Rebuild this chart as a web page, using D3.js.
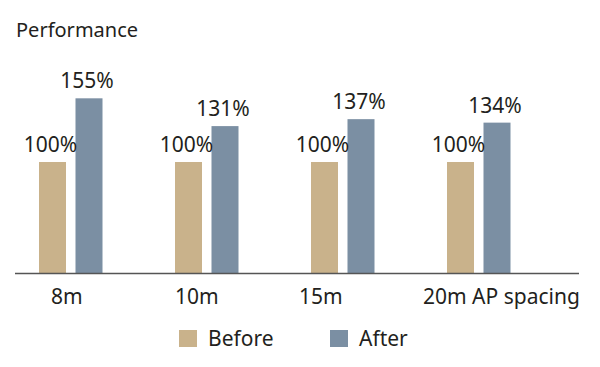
<!DOCTYPE html>
<html>
<head>
<meta charset="utf-8">
<script src="https://cdn.jsdelivr.net/npm/d3@7"></script>
<style>
  html, body { margin: 0; padding: 0; background: #fff; }
  text { font-family: "Noto Sans", "Open Sans", sans-serif; fill: #231f20; }
</style>
</head>
<body>
<svg id="chart" width="600" height="367"></svg>
<script>
const categories = ["8m", "10m", "15m", "20m AP spacing"];
const seriesNames = ["Before", "After"];
const beforeValues = [100, 100, 100, 100];
const afterValues = [155, 131, 137, 134];
const valueLabels = [["100%", "155%"], ["100%", "131%"], ["100%", "137%"], ["100%", "134%"]];
const colors = ["#c9b28b", "#7b8fa3"];
const yTitle = "Performance";

const svg = d3.select("#chart");
const baseY = 273;

const x0 = d3.scaleBand().domain(categories).range([39, 583]).paddingInner(0).paddingOuter(0);
const x1 = d3.scaleBand().domain(seriesNames).range([0, 63.5]).paddingInner(0.26).paddingOuter(0);
const y = d3.scaleLinear().domain([4.15, 200]).range([baseY, 46.2]);
const labelX = d3.scalePoint().domain(categories).range([51, 423]);
const color = d3.scaleOrdinal().domain(seriesNames).range(colors);

const rows = categories.map((c, i) => ({
  cat: c,
  vals: [
    { s: "Before", v: beforeValues[i], label: valueLabels[i][0] },
    { s: "After", v: afterValues[i], label: valueLabels[i][1] }
  ]
}));

svg.append("text").attr("x", 16).attr("y", 37).style("font-size", "20px").text(yTitle);

const g = svg.selectAll("g.grp").data(rows).enter().append("g")
  .attr("class", "grp")
  .attr("transform", d => `translate(${x0(d.cat)},0)`);

g.selectAll("rect").data(d => d.vals).enter().append("rect")
  .attr("x", d => x1(d.s))
  .attr("y", d => y(d.v))
  .attr("width", x1.bandwidth())
  .attr("height", d => baseY - y(d.v))
  .attr("fill", d => color(d.s));

g.selectAll("text.val").data(d => d.vals).enter().append("text")
  .attr("class", "val")
  .attr("x", d => x1(d.s) + x1.bandwidth() / 2 - 2)
  .attr("y", d => y(d.v) - 10)
  .attr("text-anchor", "middle")
  .style("font-size", "21px")
  .text(d => d.label);

svg.append("line")
  .attr("x1", 15).attr("x2", 579)
  .attr("y1", baseY + 0.5).attr("y2", baseY + 0.5)
  .attr("stroke", "#555").attr("stroke-width", 1.5);

svg.selectAll("text.cat").data(categories).enter().append("text")
  .attr("class", "cat")
  .attr("x", d => labelX(d))
  .attr("y", 303.5)
  .style("font-size", "21px")
  .text(d => d);

const legendX = d3.scalePoint().domain(seriesNames).range([179, 330]);
const lg = svg.selectAll("g.leg").data(seriesNames).enter().append("g")
  .attr("class", "leg")
  .attr("transform", d => `translate(${legendX(d)},330)`);
lg.append("rect").attr("width", 18).attr("height", 17).attr("fill", d => color(d));
lg.append("text").attr("x", 29).attr("y", 16).style("font-size", "21px").text(d => d);
</script>
</body>
</html>
